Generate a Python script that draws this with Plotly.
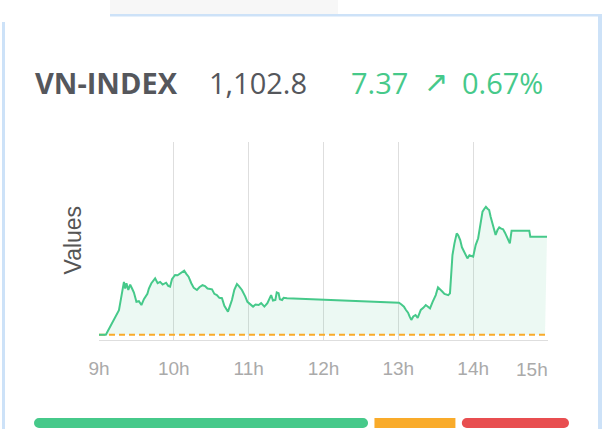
import plotly.graph_objects as go

# ---- data ------------------------------------------------------------------
index_name = "VN-INDEX"
prev_close = 1095.43
last_price = 1102.8
change = 7.37
change_pct = 0.67

# minutes after 09:00 and index value
minutes = [0, 5.5, 16, 20, 21, 22, 23.5, 25, 26.5, 28, 30, 32, 34, 36, 38.8, 40, 42, 45,
           47, 49, 51, 53.8, 55.5, 57, 58.5, 61, 63, 65, 68.3, 70, 71.8, 74, 76, 78.5,
           80.5, 83, 85, 87, 90.6, 92.5, 94.5, 96.5, 98.6, 100.5, 103.4, 105, 106.6,
           108.5, 110.6, 112, 114.6, 117.3, 119, 123.5, 125.5, 128, 130, 132.6, 135,
           138, 139.5, 141.4, 142.5, 144, 145, 146.8, 148, 150.8,
           240.5, 242.5, 244.5, 246, 247.8, 249, 250.4, 252, 253.8, 255.5, 258, 260,
           262, 263.5, 265.4, 267.5, 270, 271.8, 273.5, 275.4, 277, 278.8, 280, 281.4,
           282.5, 283.4, 285, 286.8, 288, 289.6, 291, 292.8, 294, 295.4, 297, 298.2,
           300, 301.4, 302, 304, 305.5, 307.5, 309, 310.2, 311.5, 312.8, 314, 315.6,
           317, 318, 319.5, 320.9, 322.5, 324, 325.5, 327, 328.5, 329.4, 330.8, 345,
           345.8, 359.2]
values = [1095.43, 1095.43, 1097.27, 1099.4, 1098.9, 1099.3, 1098.8, 1099.2, 1098.9,
          1098.6, 1097.9, 1097.95, 1097.66, 1098.1, 1098.5, 1098.9, 1099.3, 1099.67,
          1099.3, 1099.4, 1099.2, 1099.34, 1099.1, 1099.04, 1099.6, 1099.92, 1099.9,
          1100.05, 1100.24, 1100.0, 1099.79, 1099.3, 1098.95, 1098.79, 1099.0, 1099.15,
          1099.09, 1098.9, 1098.84, 1098.5, 1098.41, 1098.2, 1098.17, 1097.6, 1097.16,
          1097.6, 1098.04, 1098.8, 1099.24, 1099.1, 1098.79, 1098.29, 1097.9, 1097.54,
          1097.7, 1097.66, 1097.8, 1097.54, 1097.8, 1098.41, 1098.0, 1098.04, 1098.6,
          1098.54, 1098.1, 1098.04, 1098.2, 1098.17,
          1097.84, 1097.7, 1097.54, 1097.3, 1097.08, 1096.8, 1096.54, 1096.8, 1096.91,
          1096.7, 1097.29, 1097.45, 1097.66, 1097.55, 1097.41, 1097.9, 1098.41, 1098.99,
          1098.8, 1098.66, 1098.5, 1098.41, 1098.4, 1098.54, 1099.8, 1101.42, 1102.3,
          1103.05, 1102.9, 1102.55, 1102.0, 1101.67, 1101.4, 1101.17, 1101.4, 1101.35,
          1101.3, 1101.9, 1102.17, 1102.68, 1103.6, 1104.68, 1104.9, 1105.05, 1104.9,
          1104.8, 1104.3, 1103.8, 1103.2, 1102.93, 1103.3, 1103.5, 1103.4, 1103.35,
          1103.1, 1102.8, 1102.5, 1102.3, 1103.25, 1103.25, 1102.8, 1102.8]

hours = [9, 10, 11, 12, 13, 14, 15]
hour_labels = ["9h", "10h", "11h", "12h", "13h", "14h", "15h"]

# market breadth: advancing / unchanged / declining
breadth = [220, 57, 72]

GREEN = "#46c98a"
ORANGE = "#f9ab2a"
RED = "#e84e50"
DARK = "#55575c"
BORDER = "#cde2f8"

W, H = 605, 429


def px(x):
    return x / W


def py(y):
    return (H - y) / H


times = [9 + m / 60 for m in minutes]

fig = go.Figure()

# previous close, dashed
fig.add_trace(go.Scatter(x=[9, 14.96], y=[prev_close, prev_close], mode="lines",
                         line=dict(color=ORANGE, width=2, dash="6px,4px"),
                         hoverinfo="skip"))
fig.add_trace(go.Scatter(x=times, y=values, mode="lines",
                         line=dict(color=GREEN, width=2),
                         fill="tonexty", fillcolor="rgba(72,201,137,0.1)"))

# breadth bar
gap = 0.012 * sum(breadth)
adv, unch, dec = breadth
fig.add_trace(go.Bar(y=[0], x=[-(adv - gap / 2)], base=[adv - gap / 2], orientation="h",
                     marker=dict(color=GREEN, cornerradius=5), width=1,
                     xaxis="x2", yaxis="y2"))
fig.add_trace(go.Bar(y=[0], x=[unch - gap], base=[adv + gap / 2], orientation="h",
                     marker=dict(color=ORANGE), width=1, xaxis="x2", yaxis="y2"))
fig.add_trace(go.Bar(y=[0], x=[dec - gap / 2], base=[adv + unch + gap / 2], orientation="h",
                     marker=dict(color=RED, cornerradius=5), width=1,
                     xaxis="x2", yaxis="y2"))

fig.update_layout(
    template="none",
    width=W, height=H,
    margin=dict(l=0, r=0, t=0, b=0, pad=0, autoexpand=False),
    paper_bgcolor="white", plot_bgcolor="white",
    showlegend=False,
    barmode="overlay",
    xaxis=dict(domain=[px(99), px(548)], range=[9, 15], automargin=False,
               tickvals=hours, ticktext=hour_labels[:-1] + [""],
               showgrid=True, gridcolor="#dedede", gridwidth=1,
               showline=True, linecolor="#dedede", linewidth=1,
               zeroline=False, ticks="", ticklabelstandoff=11,
               tickfont=dict(family="Liberation Sans", size=19, color="#aaaaaa")),
    yaxis=dict(domain=[py(340), py(142)], range=[1095.03, 1109.92], automargin=False,
               showgrid=False, showticklabels=False, zeroline=False, showline=False),
    xaxis2=dict(domain=[px(34), px(569)], range=[0, sum(breadth)], anchor="y2",
                visible=False, automargin=False),
    yaxis2=dict(domain=[py(428), py(418)], range=[-0.5, 0.5], anchor="x2",
                visible=False, automargin=False),
)

# last hour label sits left of its gridline
fig.add_annotation(x=14.78, xref="x", y=py(369), yref="paper", text=hour_labels[-1],
                   showarrow=False, xanchor="center", yanchor="middle",
                   font=dict(family="Liberation Sans", size=19, color="#aaaaaa"))

fig.add_annotation(x=px(72.5), y=py(240), xref="paper", yref="paper", text="Values",
                   textangle=-90, showarrow=False, xanchor="center", yanchor="middle",
                   font=dict(family="Liberation Sans", size=23, color="#555555"))

# header
head = dict(xref="paper", yref="paper", showarrow=False, xanchor="left", yanchor="middle")
fig.add_annotation(x=px(33), y=py(82.5), text="<b>%s</b>" % index_name,
                   font=dict(family="Open Sans", size=29, color=DARK), **head)
fig.add_annotation(x=px(207), y=py(82.5), text="{:,.1f}".format(last_price),
                   font=dict(family="Open Sans", size=29, color=DARK), **head)
fig.add_annotation(x=px(349), y=py(82.5), text="%.2f" % change,
                   font=dict(family="Open Sans", size=29, color=GREEN), **head)
fig.add_annotation(x=px(422), y=py(82.5), text="↗",
                   font=dict(family="DejaVu Sans", size=29, color=GREEN), **head)
fig.add_annotation(x=px(460), y=py(82.5), text="%.2f%%" % change_pct,
                   font=dict(family="Open Sans", size=29, color=GREEN), **head)

# card frame
frame = [
    dict(x0=110, x1=338, y0=0, y1=14, color="#f7f7f7"),
    dict(x0=110, x1=602, y0=14, y1=16.5, color=BORDER),
    dict(x0=598, x1=602, y0=14, y1=429, color=BORDER),
    dict(x0=2, x1=5, y0=22, y1=429, color=BORDER),
]
for f in frame:
    fig.add_shape(type="rect", xref="paper", yref="paper",
                  x0=px(f["x0"]), x1=px(f["x1"]), y0=py(f["y1"]), y1=py(f["y0"]),
                  fillcolor=f["color"], line=dict(width=0), layer="below")

fig.write_html("out.html", config={"displayModeBar": False})

# no page margin, so the figure sits at the window's corner
with open("out.html") as fh:
    page = fh.read()
page = page.replace("<head>", "<head><style>html,body{margin:0;padding:0;overflow:hidden;}</style>", 1)
with open("out.html", "w") as fh:
    fh.write(page)
